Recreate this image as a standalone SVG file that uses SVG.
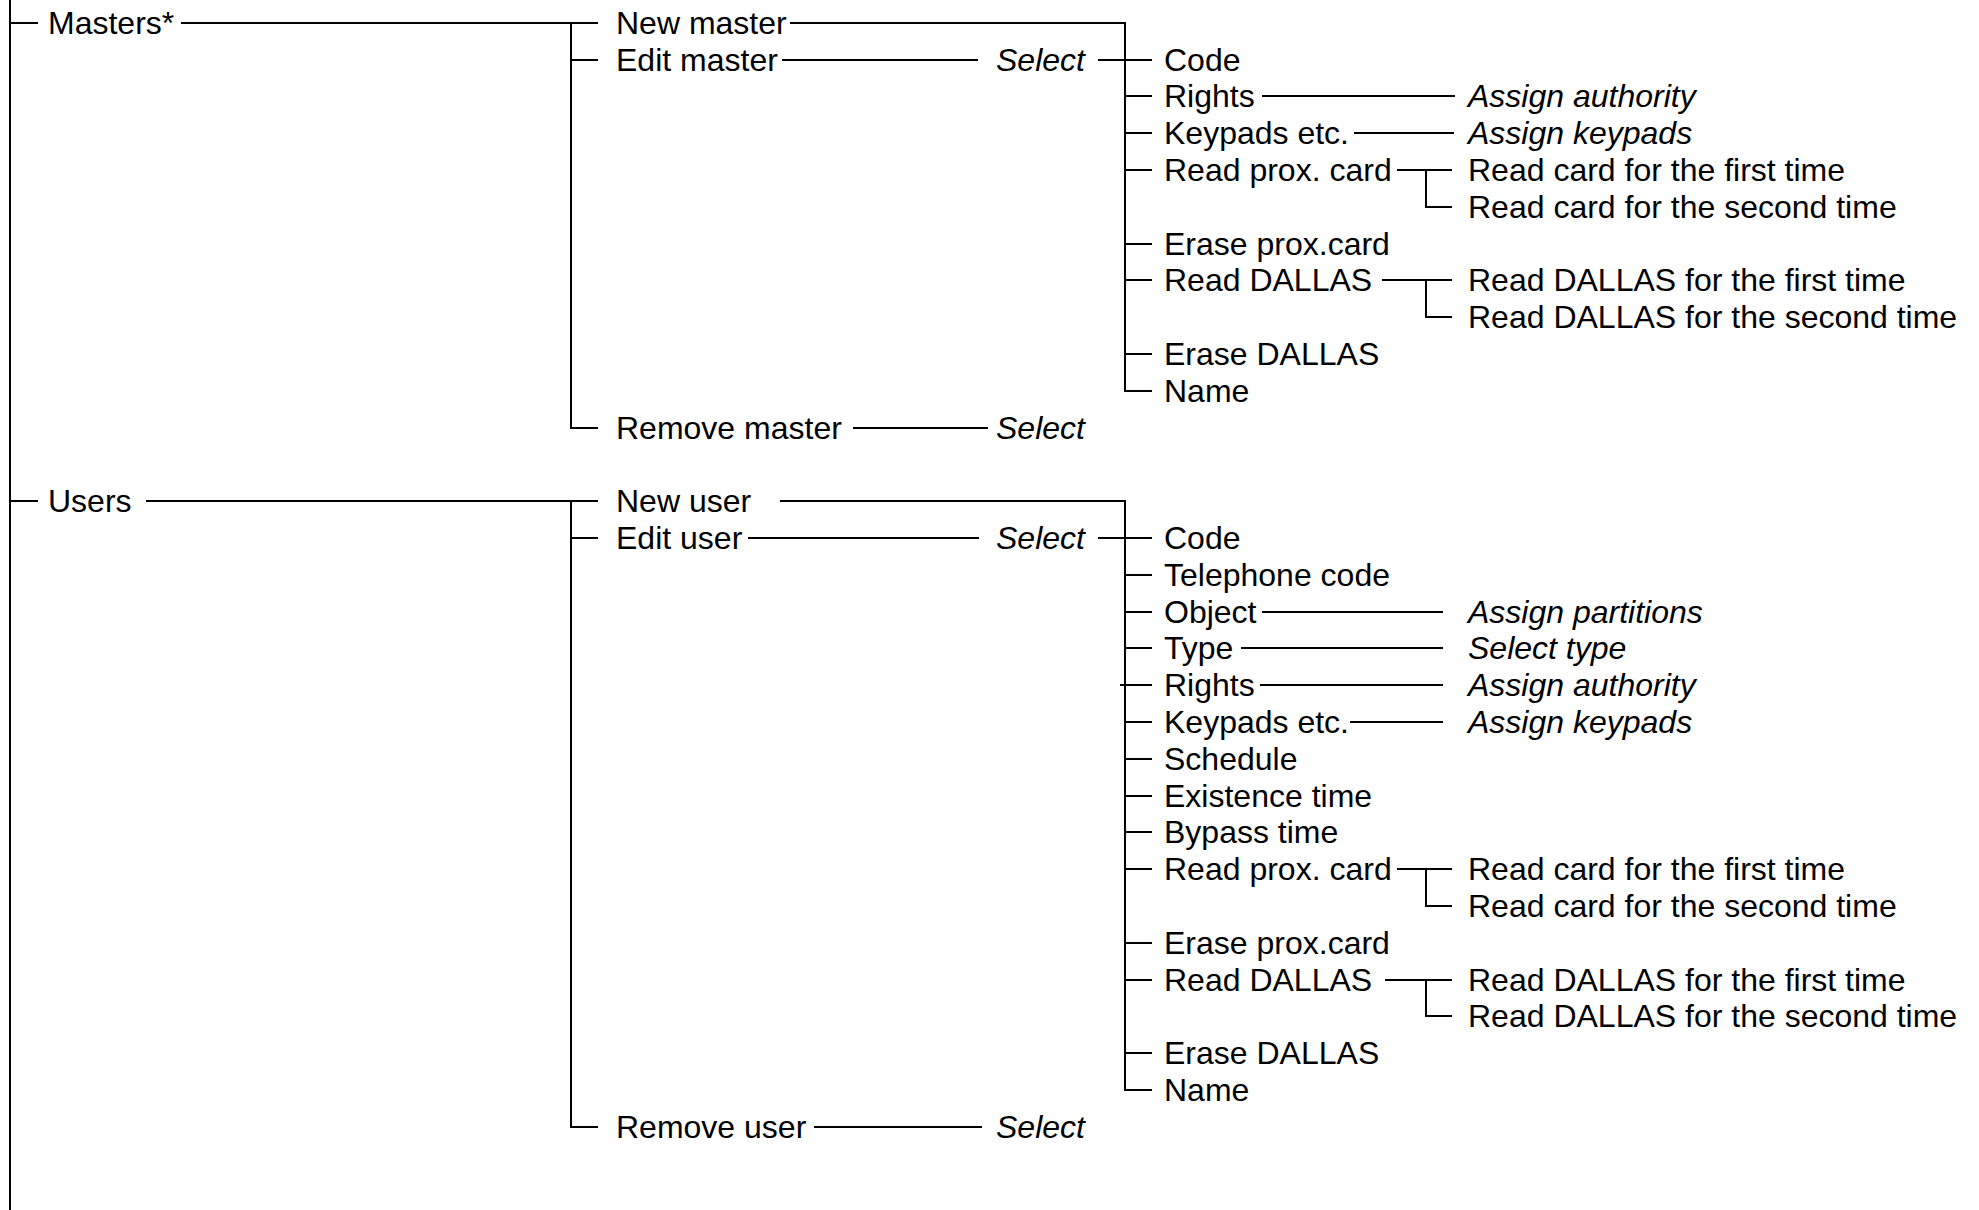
<svg xmlns="http://www.w3.org/2000/svg" width="1979" height="1210" viewBox="0 0 1979 1210">
<style>
text{font-family:"Liberation Sans",Arial,sans-serif;font-size:32px;fill:#000}
.i{font-style:italic}
.c{fill:none;stroke:#000;stroke-width:2}
</style>
<rect width="1979" height="1210" fill="#fff"/>
<g id="connectors" class="c">
<path d="M10 0V1210M10 23H38M10 501H38"/>
<path d="M181 23H598M571 23V428H598M571 60H598"/>
<path d="M790 23H1125V391H1152M782 60H978M1098 60H1152"/>
<path d="M1125 96H1152M1125 133H1152M1125 170H1152M1125 244H1152M1125 280H1152M1125 354H1152"/>
<path d="M1262 96H1455M1354 133H1454M1397 170H1452M1426 170V207H1452M1382 280H1452M1426 280V317H1452"/>
<path d="M853 428H988"/>
<path d="M146 501H598M571 501V1127H598M571 538H598"/>
<path d="M780 501H1125V1090H1152M748 538H979M1098 538H1152"/>
<path d="M1125 575H1152M1125 612H1152M1125 648H1152M1120 685H1152M1125 722H1152M1125 759H1152M1125 796H1152M1125 832H1152M1125 869H1152M1125 943H1152M1125 980H1152M1125 1053H1152"/>
<path d="M1262 612H1443M1241 648H1443M1260 685H1443M1350 722H1443M1397 869H1452M1426 869V906H1452M1385 980H1452M1426 980V1016H1452"/>
<path d="M814 1127H982"/>
</g>
<g id="masters"><text x="48" y="34">Masters*</text></g>
<g id="new-master"><text x="616" y="34">New master</text></g>
<g id="edit-master"><text x="616" y="71">Edit master</text></g>
<g id="edit-master-select"><text class="i" x="996" y="71">Select</text></g>
<g id="m-code"><text x="1164" y="71">Code</text></g>
<g id="m-rights"><text x="1164" y="107">Rights</text></g>
<g id="m-rights-assign"><text class="i" x="1468" y="107">Assign authority</text></g>
<g id="m-keypads"><text x="1164" y="144">Keypads etc.</text></g>
<g id="m-keypads-assign"><text class="i" x="1468" y="144">Assign keypads</text></g>
<g id="m-readprox"><text x="1164" y="181">Read prox. card</text></g>
<g id="m-readcard1"><text x="1468" y="181">Read card for the first time</text></g>
<g id="m-readcard2"><text x="1468" y="218">Read card for the second time</text></g>
<g id="m-eraseprox"><text x="1164" y="255">Erase prox.card</text></g>
<g id="m-readdallas"><text x="1164" y="291">Read DALLAS</text></g>
<g id="m-readdallas1"><text x="1468" y="291">Read DALLAS for the first time</text></g>
<g id="m-readdallas2"><text x="1468" y="328">Read DALLAS for the second time</text></g>
<g id="m-erasedallas"><text x="1164" y="365">Erase DALLAS</text></g>
<g id="m-name"><text x="1164" y="402">Name</text></g>
<g id="remove-master"><text x="616" y="439">Remove master</text></g>
<g id="remove-master-select"><text class="i" x="996" y="439">Select</text></g>
<g id="users"><text x="48" y="512">Users</text></g>
<g id="new-user"><text x="616" y="512">New user</text></g>
<g id="edit-user"><text x="616" y="549">Edit user</text></g>
<g id="edit-user-select"><text class="i" x="996" y="549">Select</text></g>
<g id="u-code"><text x="1164" y="549">Code</text></g>
<g id="u-telephone"><text x="1164" y="586">Telephone code</text></g>
<g id="u-object"><text x="1164" y="623">Object</text></g>
<g id="u-object-assign"><text class="i" x="1468" y="623">Assign partitions</text></g>
<g id="u-type"><text x="1164" y="659">Type</text></g>
<g id="u-type-select"><text class="i" x="1468" y="659">Select type</text></g>
<g id="u-rights"><text x="1164" y="696">Rights</text></g>
<g id="u-rights-assign"><text class="i" x="1468" y="696">Assign authority</text></g>
<g id="u-keypads"><text x="1164" y="733">Keypads etc.</text></g>
<g id="u-keypads-assign"><text class="i" x="1468" y="733">Assign keypads</text></g>
<g id="u-schedule"><text x="1164" y="770">Schedule</text></g>
<g id="u-existence"><text x="1164" y="807">Existence time</text></g>
<g id="u-bypass"><text x="1164" y="843">Bypass time</text></g>
<g id="u-readprox"><text x="1164" y="880">Read prox. card</text></g>
<g id="u-readcard1"><text x="1468" y="880">Read card for the first time</text></g>
<g id="u-readcard2"><text x="1468" y="917">Read card for the second time</text></g>
<g id="u-eraseprox"><text x="1164" y="954">Erase prox.card</text></g>
<g id="u-readdallas"><text x="1164" y="991">Read DALLAS</text></g>
<g id="u-readdallas1"><text x="1468" y="991">Read DALLAS for the first time</text></g>
<g id="u-readdallas2"><text x="1468" y="1027">Read DALLAS for the second time</text></g>
<g id="u-erasedallas"><text x="1164" y="1064">Erase DALLAS</text></g>
<g id="u-name"><text x="1164" y="1101">Name</text></g>
<g id="remove-user"><text x="616" y="1138">Remove user</text></g>
<g id="remove-user-select"><text class="i" x="996" y="1138">Select</text></g>
</svg>
